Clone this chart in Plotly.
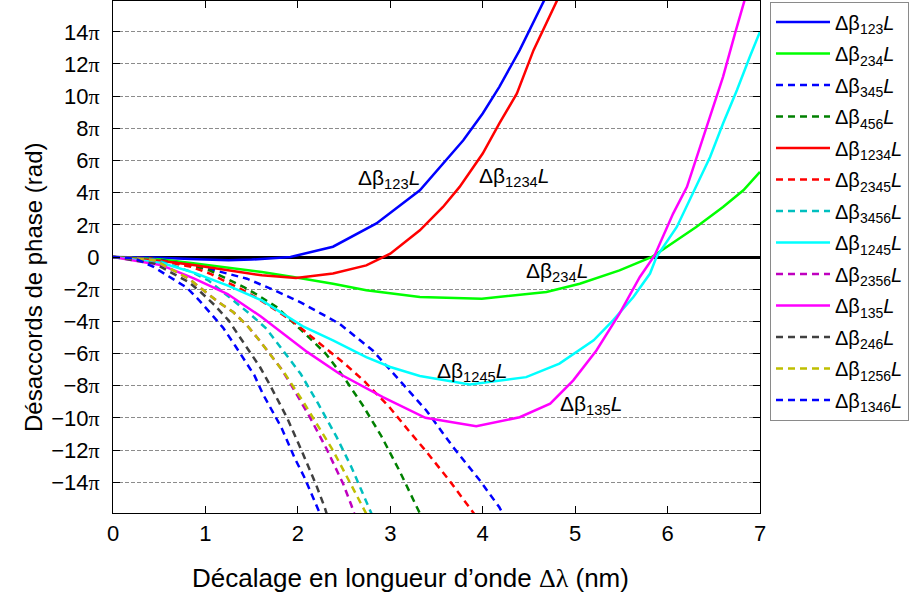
import plotly.graph_objects as go

# ---- data (phase mismatch in units of pi rad vs wavelength shift in nm) ----
x_123 = [0, 0.5, 0.9, 1.25, 1.5, 1.92, 2.38, 2.85, 3.32, 3.57, 3.79, 4.0, 4.18, 4.40, 4.56, 4.66, 4.72]
y_123 = [0, -0.04, -0.14, -0.2, -0.16, 0, 0.64, 2.09, 4.15, 5.81, 7.26, 8.92, 10.58, 12.86, 14.73, 15.97, 16.6]

x_234 = [0, 0.53, 0.89, 1.25, 1.61, 1.95, 2.38, 2.74, 3.32, 3.99, 4.69, 5.05, 5.48, 5.83, 6.10, 6.31, 6.60, 6.82, 7.0]
y_234 = [0, -0.16, -0.41, -0.66, -0.93, -1.24, -1.66, -2.07, -2.49, -2.59, -2.18, -1.66, -0.83, 0, 1.04, 1.87, 3.11, 4.15, 5.29]

x_345 = [0, 0.5, 1.03, 1.25, 1.45, 1.79, 2.04, 2.45, 2.81, 3.10, 3.39, 3.68, 3.97, 4.18, 4.25]
y_345 = [0, -0.17, -0.72, -1.04, -1.35, -2.18, -2.85, -4.15, -5.81, -7.67, -9.54, -11.82, -13.9, -15.56, -16.3]

x_456 = [0, 0.4, 0.67, 0.85, 1.05, 1.23, 1.41, 1.57, 1.77, 2.06, 2.3, 2.5, 2.7, 2.9, 3.1, 3.3, 3.36]
y_456 = [0, -0.1, -0.35, -0.52, -0.85, -1.35, -1.85, -2.38, -3.11, -4.67, -6.0, -7.5, -9.2, -11.1, -13.3, -15.7, -16.4]

x_1234 = [0, 0.53, 0.89, 1.25, 1.61, 1.98, 2.38, 2.74, 3.0, 3.32, 3.57, 3.75, 4.0, 4.18, 4.37, 4.55, 4.81, 4.85]
y_1234 = [0, -0.25, -0.52, -0.83, -1.14, -1.3, -1.03, -0.52, 0.21, 1.66, 3.11, 4.36, 6.43, 8.3, 10.17, 12.86, 15.97, 16.5]

x_2345 = [0, 0.4, 0.85, 1.05, 1.23, 1.41, 1.57, 1.93, 2.24, 2.5, 2.71, 2.99, 3.2, 3.39, 3.64, 3.88, 3.95]
y_2345 = [0, -0.1, -0.62, -1.04, -1.56, -2.07, -2.59, -3.94, -5.39, -6.6, -7.67, -9.33, -10.8, -12.1, -13.9, -15.7, -16.3]

x_3456 = [0, 0.45, 0.85, 1.03, 1.19, 1.34, 1.50, 1.66, 2.03, 2.22, 2.42, 2.58, 2.79, 2.83]
y_3456 = [0, -0.15, -0.93, -1.45, -2.18, -2.9, -3.63, -4.46, -7.26, -9.12, -11.2, -13.07, -15.9, -16.4]

x_1245 = [0, 0.53, 0.89, 1.25, 1.61, 2.05, 2.38, 2.74, 3.0, 3.32, 3.86, 4.47, 4.83, 5.2, 5.41, 5.63, 5.81, 5.88,
          6.1, 6.28, 6.46, 6.60, 6.75, 6.89, 7.0]
y_1245 = [0, -0.37, -1.0, -1.8, -2.7, -4.3, -5.18, -6.22, -6.84, -7.4, -7.92, -7.47, -6.63, -5.18, -3.94, -2.49,
          -1.03, 0, 1.87, 4.04, 6.22, 8.3, 10.37, 12.45, 14.0]

x_2356 = [0, 0.45, 0.82, 0.98, 1.14, 1.30, 1.45, 1.57, 1.82, 1.91, 2.13, 2.31, 2.49, 2.58, 2.63]
y_2356 = [0, -0.2, -1.35, -2.07, -2.8, -3.42, -4.25, -5.08, -6.95, -7.78, -9.96, -11.92, -14.1, -15.45, -16.3]

x_135 = [0, 0.53, 0.88, 1.24, 1.60, 2.1, 2.45, 2.92, 3.38, 3.93, 4.40, 4.73, 4.98, 5.23, 5.48, 5.70, 5.86,
         6.06, 6.21, 6.42, 6.60, 6.73, 6.84, 6.86]
y_135 = [0, -0.52, -1.35, -2.3, -3.7, -5.9, -7.26, -8.71, -10.0, -10.52, -9.96, -9.12, -7.67, -5.81, -3.52,
         -1.24, 0.1, 2.7, 4.36, 8.09, 11.2, 13.9, 15.97, 16.5]

x_246 = [0, 0.45, 0.64, 0.82, 0.96, 1.10, 1.25, 1.37, 1.59, 1.70, 1.88, 2.04, 2.20, 2.29, 2.33]
y_246 = [0, -0.41, -1.0, -1.56, -2.24, -3.0, -3.94, -4.98, -6.84, -7.98, -9.96, -12.03, -14.2, -15.56, -16.3]

x_1256 = [0, 0.45, 0.82, 0.98, 1.14, 1.30, 1.45, 1.57, 1.86, 2.06, 2.18, 2.38, 2.58, 2.74, 2.78]
y_1256 = [0, -0.2, -1.35, -2.07, -2.8, -3.42, -4.25, -5.08, -7.26, -9.02, -10.16, -12.03, -14.2, -15.97, -16.4]

x_1346 = [0, 0.24, 0.44, 0.80, 0.94, 1.07, 1.19, 1.32, 1.53, 1.62, 1.82, 1.97, 2.07, 2.24, 2.28]
y_1346 = [0, -0.1, -0.62, -1.91, -2.74, -3.57, -4.39, -5.5, -7.36, -8.5, -10.58, -12.55, -13.69, -15.97, -16.5]

y_tick_vals = [-14, -12, -10, -8, -6, -4, -2, 0, 2, 4, 6, 8, 10, 12, 14]
x_tick_vals = [0, 1, 2, 3, 4, 5, 6, 7]

labels = ["123", "234", "345", "456", "1234", "2345", "3456", "1245", "2356", "135", "246", "1256", "1346"]

SERIF = "Liberation Serif"
SANS = "Liberation Sans, Arial, sans-serif"

def pi_label(v):
    if v == 0:
        return "0"
    sign = "\u2212" if v < 0 else ""
    return f"{sign}{abs(v)}<span style='font-family:{SERIF}'>π</span>"

styles = [
    ("#0000FF", "solid"), ("#00FF00", "solid"), ("#0000FF", "7px,5px"), ("#008000", "7px,5px"),
    ("#FF0000", "solid"), ("#FF0000", "7px,5px"), ("#00BFBF", "7px,5px"), ("#00FFFF", "solid"),
    ("#BF00BF", "7px,5px"), ("#FF00FF", "solid"), ("#404040", "7px,5px"), ("#BFBF00", "7px,5px"),
    ("#0000FF", "7px,5px"),
]
xs = [x_123, x_234, x_345, x_456, x_1234, x_2345, x_3456, x_1245, x_2356, x_135, x_246, x_1256, x_1346]
ys = [y_123, y_234, y_345, y_456, y_1234, y_2345, y_3456, y_1245, y_2356, y_135, y_246, y_1256, y_1346]

def beta_name(sub):
    return f"Δβ<sub>{sub}</sub><i>L</i>"

fig = go.Figure()
for i, (lab, xv, yv, (col, dash)) in enumerate(zip(labels, xs, ys, styles)):
    fig.add_trace(go.Scatter(
        x=xv, y=yv, mode="lines", name=beta_name(lab),
        line=dict(color=col, width=2.5, dash=dash),
        legendgroup=f"g{i}",
    ))

# in-plot curve labels
curve_labels = [("123", 2.99, 4.84), ("1234", 4.34, 4.96), ("234", 4.80, -0.95),
                ("1245", 3.88, -7.17), ("135", 5.17, -9.17)]
for sub, lx, ly in curve_labels:
    fig.add_annotation(x=lx, y=ly, text=beta_name(sub), showarrow=False,
                       font=dict(family=SANS, size=21, color="black"))

# axis titles
fig.add_annotation(xref="paper", yref="paper", x=(410 - 113) / 647, y=-(578 - 513) / 512,
                   text=f"Décalage en longueur d’onde <span style='font-family:{SERIF}'>Δλ</span> (nm)",
                   showarrow=False, font=dict(family=SANS, size=26, color="black"),
                   xanchor="center", yanchor="middle")
fig.add_annotation(xref="paper", yref="paper", x=-(113 - 33) / 647, y=(513 - 288) / 512,
                   text="Désaccords de phase (rad)", textangle=-90,
                   showarrow=False, font=dict(family=SANS, size=24, color="black"),
                   xanchor="center", yanchor="middle")

fig.update_layout(
    width=912, height=601,
    margin=dict(l=113, r=152, t=1, b=88, pad=0),
    paper_bgcolor="white", plot_bgcolor="white",
    font=dict(family=SANS, size=20, color="black"),
    showlegend=True,
    legend=dict(x=(770 - 113) / 647, y=0.999, xanchor="left", yanchor="top",
                bordercolor="#8a8a8a", borderwidth=1, bgcolor="white",
                font=dict(family=SANS, size=20, color="black"),
                tracegroupgap=2.5, itemwidth=54),
)
fig.update_xaxes(
    range=[0, 7], tickvals=x_tick_vals, ticktext=[str(v) for v in x_tick_vals],
    showgrid=False, zeroline=False,
    showline=True, linecolor="black", linewidth=1, mirror="ticks",
    ticks="inside", ticklen=7, tickcolor="black", tickwidth=1,
    tickfont=dict(family=SANS, size=22, color="black"), ticklabelstandoff=1,
)
fig.update_yaxes(
    range=[-50 / 3.141592653589793, 50 / 3.141592653589793],
    tickvals=y_tick_vals, ticktext=[pi_label(v) for v in y_tick_vals],
    showgrid=True, gridcolor="#8c8c8c", gridwidth=1, griddash="4px,2px",
    zeroline=True, zerolinecolor="black", zerolinewidth=2.5,
    showline=True, linecolor="black", linewidth=1, mirror="ticks",
    ticks="inside", ticklen=7, tickcolor="black", tickwidth=1,
    tickfont=dict(family=SANS, size=22, color="black"), ticklabelstandoff=8,
)

fig.write_html("out.html", config={"displayModeBar": False},
               post_script="document.body.style.margin='0';document.body.style.padding='0';")
